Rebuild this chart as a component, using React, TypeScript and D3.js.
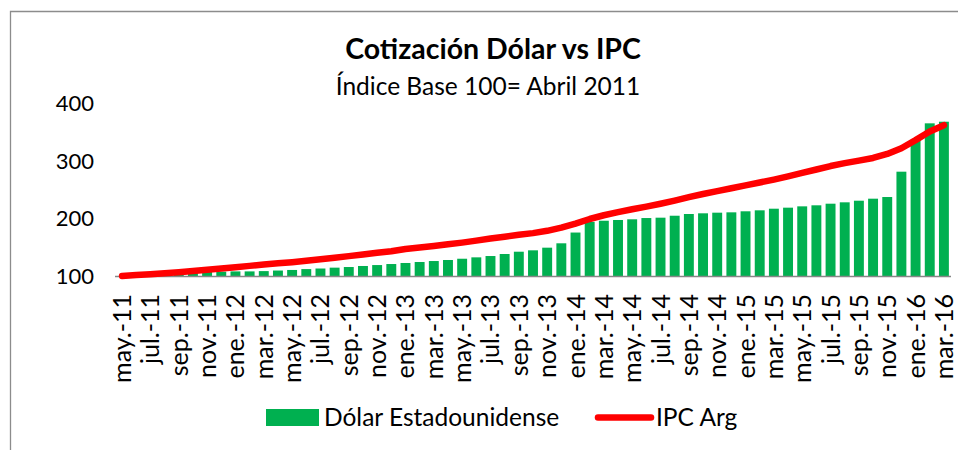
import * as d3 from "d3"
import { useEffect, useRef } from "react"

const months = [
  "may.-11", "jun.-11", "jul.-11", "ago.-11", "sep.-11", "oct.-11", "nov.-11", "dic.-11",
  "ene.-12", "feb.-12", "mar.-12", "abr.-12", "may.-12", "jun.-12", "jul.-12", "ago.-12",
  "sep.-12", "oct.-12", "nov.-12", "dic.-12",
  "ene.-13", "feb.-13", "mar.-13", "abr.-13", "may.-13", "jun.-13", "jul.-13", "ago.-13",
  "sep.-13", "oct.-13", "nov.-13", "dic.-13",
  "ene.-14", "feb.-14", "mar.-14", "abr.-14", "may.-14", "jun.-14", "jul.-14", "ago.-14",
  "sep.-14", "oct.-14", "nov.-14", "dic.-14",
  "ene.-15", "feb.-15", "mar.-15", "abr.-15", "may.-15", "jun.-15", "jul.-15", "ago.-15",
  "sep.-15", "oct.-15", "nov.-15", "dic.-15",
  "ene.-16", "feb.-16", "mar.-16",
]

// Dólar Estadounidense (índice base 100 = abril 2011)
const dolar = [
  100, 101, 102, 103.5, 104, 106, 107, 107.5, 108, 108,
  108.5, 109.5, 110.5, 112, 113, 114.5, 115.6, 117.4, 119, 120.8,
  122.6, 124.3, 126, 127.8, 130, 132.4, 134.7, 138.2, 142.2, 144.6,
  149.2, 156.8, 175.5, 194, 196, 197.3, 198.5, 200.7, 201.3, 204.7,
  207.7, 208.9, 210, 210.6, 212.4, 214.1, 216.9, 218.7, 221, 222.8,
  225.6, 228, 230.8, 234.3, 237.2, 281.2, 336, 365.2, 368,
]

// IPC Arg
const ipc = [
  100, 101.6, 103.2, 104.8, 106.4, 108.5, 110.7, 112.9, 115.2, 117.6,
  119.8, 122, 124, 126.5, 129, 131.8, 134.5, 137.5, 140.3, 143,
  147, 149.5, 152, 155, 158, 161.5, 165, 168.3, 171.5, 174.5,
  178.5, 184, 191, 199, 205.5, 211, 216, 220.5, 225.5, 231,
  237, 242.5, 247.5, 252.5, 257.5, 262.5, 267.5, 273, 279, 285,
  291, 296, 300.5, 305, 312, 322, 336, 351, 362,
]

const yTicks = [100, 200, 300, 400]

const FONT = "Lato, 'Open Sans', sans-serif"

export default function App() {
  const svgRef = useRef<SVGSVGElement | null>(null)

  useEffect(() => {
    if (!svgRef.current) return
    const svg = d3.select(svgRef.current)
    svg.selectAll("*").remove()

    const H = 450
    const x = d3
      .scaleBand()
      .domain(months)
      .range([115, 951])
      .paddingInner(0.3)
      .paddingOuter(0.15)
    const y = d3.scaleLinear().domain([100, 400]).range([276, 103.3])
    const cx = (m: string) => x(m)! + x.bandwidth() / 2

    // chart frame
    svg
      .append("path")
      .attr("d", `M10.5,${H} V11.5 H958`)
      .attr("fill", "none")
      .attr("stroke", "#8c8c8c")
      .attr("stroke-width", 1.3)

    // title
    svg
      .append("text")
      .attr("x", 493)
      .attr("y", 59)
      .attr("text-anchor", "middle")
      .style("font", `bold 28.5px ${FONT}`)
      .attr("fill", "#000")
      .text("Cotización Dólar vs IPC")

    svg
      .append("text")
      .attr("x", 488)
      .attr("y", 95)
      .attr("text-anchor", "middle")
      .style("font", `24.5px ${FONT}`)
      .attr("fill", "#000")
      .text("Índice Base 100= Abril 2011")

    // y tick labels
    svg
      .append("g")
      .selectAll("text")
      .data(yTicks)
      .enter()
      .append("text")
      .attr("x", 94)
      .attr("y", (d) => y(d))
      .attr("dy", "0.35em")
      .attr("text-anchor", "end")
      .style("font", `22px ${FONT}`)
      .attr("fill", "#000")
      .text((d) => d)

    // bars
    svg
      .append("g")
      .selectAll("rect")
      .data(dolar)
      .enter()
      .append("rect")
      .attr("x", (_, i) => x(months[i])!)
      .attr("y", (d) => y(d))
      .attr("width", x.bandwidth())
      .attr("height", (d) => y(100) - y(d))
      .attr("fill", "#00b050")

    // category axis line
    svg
      .append("line")
      .attr("x1", 115)
      .attr("x2", 951)
      .attr("y1", y(100) + 0.5)
      .attr("y2", y(100) + 0.5)
      .attr("stroke", "#868686")
      .attr("stroke-width", 1.5)

    // IPC line
    const line = d3
      .line<number>()
      .x((_, i) => cx(months[i]))
      .y((d) => y(d))
    svg
      .append("path")
      .datum(ipc)
      .attr("d", line)
      .attr("fill", "none")
      .attr("stroke", "#ff0000")
      .attr("stroke-width", 6.5)
      .attr("stroke-linejoin", "round")
      .attr("stroke-linecap", "round")

    // x labels, every other month
    svg
      .append("g")
      .selectAll("text")
      .data(months.filter((_, i) => i % 2 === 0))
      .enter()
      .append("text")
      .attr("transform", (d) => `translate(${cx(d) + 9},294) rotate(-90)`)
      .attr("text-anchor", "end")
      .style("font", `25px ${FONT}`)
      .attr("fill", "#000")
      .text((d) => d)

    // legend
    const lg = svg.append("g")
    lg.append("rect")
      .attr("x", 266)
      .attr("y", 409)
      .attr("width", 53)
      .attr("height", 17)
      .attr("fill", "#00b050")
    lg.append("text")
      .attr("x", 324)
      .attr("y", 417.5)
      .attr("dy", "0.35em")
      .style("font", `24.5px ${FONT}`)
      .attr("fill", "#000")
      .text("Dólar Estadounidense")
    lg.append("line")
      .attr("x1", 598)
      .attr("x2", 651)
      .attr("y1", 417.5)
      .attr("y2", 417.5)
      .attr("stroke", "#ff0000")
      .attr("stroke-width", 6.5)
      .attr("stroke-linecap", "round")
    lg.append("text")
      .attr("x", 656)
      .attr("y", 417.5)
      .attr("dy", "0.35em")
      .style("font", `24.5px ${FONT}`)
      .attr("fill", "#000")
      .text("IPC Arg")
  }, [])

  return (
    <svg
      ref={svgRef}
      width={966}
      height={450}
      style={{ position: "absolute", left: 0, top: 0, background: "#fff" }}
    />
  )
}
